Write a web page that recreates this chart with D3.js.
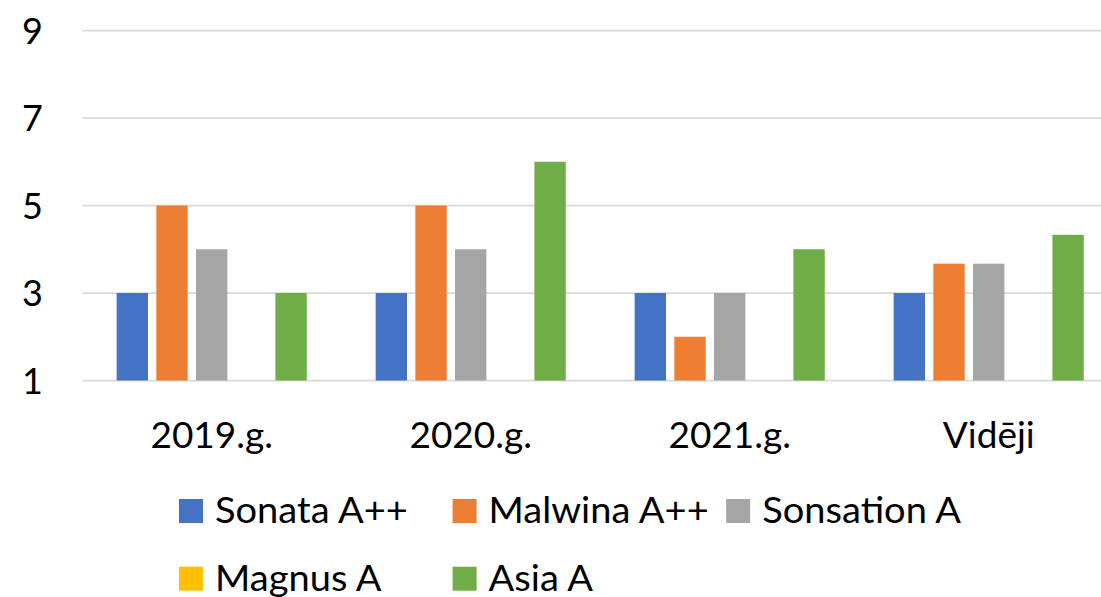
<!DOCTYPE html>
<html>
<head>
<meta charset="utf-8">
<script src="https://cdn.jsdelivr.net/npm/d3@7"></script>
<style>
  html, body { margin: 0; padding: 0; background: #fff; }
  svg { display: block; font-family: Lato, "Open Sans", sans-serif; }
</style>
</head>
<body>
<svg id="chart" width="1101" height="597"></svg>
<script>
const categories = ["2019.g.", "2020.g.", "2021.g.", "Vidēji"];
const seriesNames = ["Sonata A++", "Malwina A++", "Sonsation A", "Magnus A", "Asia A"];
const sonata    = [3, 3, 3, 3];
const malwina   = [5, 5, 2, 3.67];
const sonsation = [4, 4, 3, 3.67];
const magnus    = [null, null, null, null];
const asia      = [3, 6, 4, 4.33];
const yTicks    = [1, 3, 5, 7, 9];
const seriesColors = ["#4472C4", "#ED7D31", "#A5A5A5", "#FFC000", "#70AD47"];

const seriesValues = [sonata, malwina, sonsation, magnus, asia];

const svg = d3.select("#chart");

const plotLeft = 82.2, plotRight = 1118.2;
const y = d3.scaleLinear().domain([1, 9]).range([380.5, 30.5]);
const x0 = d3.scaleBand().domain(categories).range([plotLeft, plotRight]).padding(0);
const groupPad = 34.45;
const x1 = d3.scaleBand().domain(seriesNames)
  .range([groupPad, x0.bandwidth() - groupPad]).paddingInner(0.21).paddingOuter(0);
const color = d3.scaleOrdinal().domain(seriesNames).range(seriesColors);

// gridlines
svg.append("g").selectAll("line").data(yTicks).join("line")
  .attr("x1", plotLeft).attr("x2", plotRight)
  .attr("y1", d => y(d)).attr("y2", d => y(d))
  .attr("stroke", "#d9d9d9").attr("stroke-width", 1.75);

// y axis labels
const yAxis = d3.axisLeft(y).tickValues(yTicks).tickSize(0).tickPadding(0);
const yg = svg.append("g").attr("transform", "translate(43,0)").call(yAxis);
yg.select(".domain").remove();
yg.selectAll("text").attr("font-size", 36).attr("fill", "#000")
  .attr("font-family", "Lato, sans-serif").attr("dy", "0.35em");

// x axis labels
const xAxis = d3.axisBottom(x0).tickSize(0).tickPadding(0);
const xg = svg.append("g").attr("transform", "translate(0,448)").call(xAxis);
xg.select(".domain").remove();
xg.selectAll("text").attr("font-size", 37).attr("fill", "#000")
  .attr("font-family", "Lato, sans-serif").attr("dy", "0");

// bars
const rows = [];
categories.forEach((c, ci) => {
  seriesNames.forEach((s, si) => {
    const v = seriesValues[si][ci];
    if (v !== null && v !== undefined) rows.push({ c, s, v });
  });
});
svg.append("g").selectAll("rect").data(rows).join("rect")
  .attr("x", d => x0(d.c) + x1(d.s))
  .attr("width", x1.bandwidth())
  .attr("y", d => y(d.v))
  .attr("height", d => y(1) - y(d.v))
  .attr("fill", d => color(d.s));

// legend
const legendItems = seriesNames.map((s, i) => ({
  s, col: i % 3, row: Math.floor(i / 3)
}));
const legCol = d3.scaleLinear().domain([0, 1]).range([179, 452.6]);
const legRow = d3.scaleLinear().domain([0, 1]).range([523, 590.7]);
const li = svg.append("g").selectAll("g").data(legendItems).join("g")
  .attr("transform", d => `translate(${legCol(d.col)},${legRow(d.row)})`);
li.append("rect").attr("x", 0).attr("y", -24).attr("width", 24).attr("height", 24)
  .attr("fill", d => color(d.s));
const lt = li.append("text").text(d => d.s)
  .attr("font-size", 37).attr("font-family", "Lato, sans-serif").attr("fill", "#000");
const refLen = lt.filter(d => d.s === "Sonata A++").node().getComputedTextLength();
const sx = 193 / refLen;
lt.attr("transform", `translate(36,0) scale(${sx},1)`);
</script>
</body>
</html>
